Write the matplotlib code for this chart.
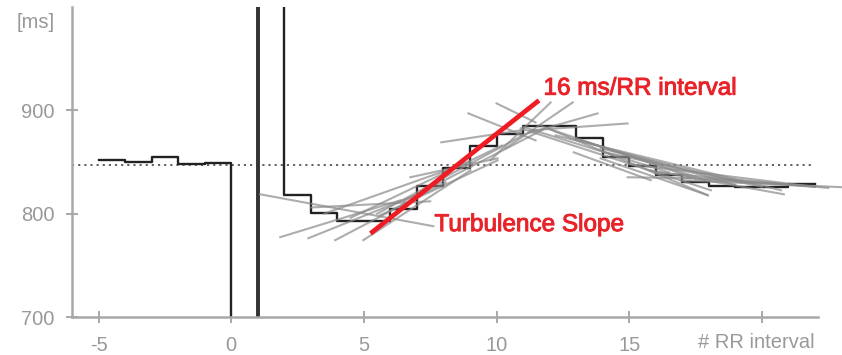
import matplotlib
matplotlib.use("Agg")
import matplotlib.pyplot as plt
import matplotlib.patheffects as pe

plt.rcParams['font.family'] = ['Liberation Sans', 'DejaVu Sans']

# ---- data ----
# RR tachogram: left edge of each step (beat index) and its RR length [ms]
rr_beat = list(range(-5, 22))
rr_ms = [852, 850, 855, 848, 849,      # before the VPC
         650, 1100,                     # coupling interval / compensatory pause (off scale)
         818, 801, 793, 793, 805, 827, 844, 866, 877, 885,
         885, 873, 855, 846, 837, 831, 827, 826, 826, 829]
rr_end = 22

baseline_ms = 847.5

# regression lines (grey), each: (x0, y0, x1, y1) in beat / ms
reg_x0 = [1.09, 1.85, 2.91, 3.92, 4.98, 5.62, 6.75, 7.92, 8.94, 10.00, 9.77, 10.34, 10.91, 11.28,
          10.91, 11.66, 12.23, 12.91, 14.94, 13.92, 15.81, 16.94, 17.70, 13.17, 13.92,
          3.5, 4.5, 5.5, 6.5, 3.0,
          11.0, 12.0, 13.0, 14.0, 15.0, 16.0, 17.0]
reg_y0 = [818.8, 777.3, 776.3, 774.4, 774.4, 798.6, 835.3, 869.1, 897.1, 906.8, 851.7, 863.3, 875.8, 880.7,
          882.6, 885.5, 875.8, 859.4, 835.3, 853.6, 842.0, 832.4, 834.3, 871.0, 863.3,
          800.0, 796.0, 800.0, 812.0, 806.0,
          884.0, 882.0, 872.0, 860.0, 848.0, 840.0, 835.0]
reg_x1 = [7.62, 6.38, 7.13, 8.08, 9.02, 10.04, 10.04, 10.91, 11.47, 11.47, 12.04, 12.87, 13.81, 14.94,
          18.08, 17.96, 20.72, 15.81, 17.32, 17.96, 20.83, 23.09, 21.47, 17.70, 19.21,
          9.0, 10.2, 11.0, 11.8, 7.5,
          16.5, 17.5, 19.0, 20.0, 22.0, 22.5, 22.0]
reg_y1 = [787.9, 813.0, 819.8, 830.4, 842.0, 851.7, 853.6, 880.7, 871.0, 888.4, 907.7, 907.7, 897.1, 887.4,
          822.7, 817.9, 822.7, 832.4, 834.3, 817.9, 818.8, 825.6, 827.5, 834.3, 830.4,
          850.0, 866.0, 876.0, 882.0, 812.0,
          840.0, 834.0, 828.0, 826.0, 826.0, 825.0, 826.0]

# turbulence slope (red)
ts_x = [5.25, 11.6]
ts_y = [780.9, 909.7]

x_ticks = [-5, 0, 5, 10, 15, 20]
x_tick_labels = ['-5', '0', '5', '10', '15', '']
y_ticks = [700, 800, 900]
y_tick_labels = ['700', '800', '900']

# ---- figure ----
fig = plt.figure(figsize=(8.42, 3.55), dpi=100)
ax = fig.add_axes([0.0855, 0.107, 0.8855, 0.873])
ax.set_xlim(-6, 22.1)
ax.set_ylim(700, 1000)

axis_grey = '#a8a8a8'
for s in ['top', 'right']:
    ax.spines[s].set_visible(False)
for s in ['left', 'bottom']:
    ax.spines[s].set_color(axis_grey)
    ax.spines[s].set_linewidth(1.8)

ax.set_xticks(x_ticks)
ax.set_xticklabels(x_tick_labels)
ax.set_yticks(y_ticks)
ax.set_yticklabels(y_tick_labels)
ax.tick_params(axis='both', direction='inout', length=9, width=1.4, color=axis_grey,
               labelcolor='#999999', labelsize=14.5)
ax.tick_params(axis='x', pad=9)
ax.tick_params(axis='y', pad=8)

# baseline (dotted)
ax.plot([-6, 21.9], [baseline_ms, baseline_ms], color='#555555', lw=1.3,
        linestyle=(0, (1.2, 2.2)), zorder=1)

# tachogram steps
ax.step(rr_beat + [rr_end], rr_ms + [rr_ms[-1]], where='post', color='#222222', lw=1.7, zorder=2)
# compensatory pause edge drawn heavier, as in the original
ax.plot([rr_beat[6], rr_beat[6]], [rr_ms[5], rr_ms[6]], color='#333333', lw=2.8, zorder=2)

# regression lines
for x0, y0, x1, y1 in zip(reg_x0, reg_y0, reg_x1, reg_y1):
    ax.plot([x0, x1], [y0, y1], color='#8a8a8a', lw=1.5, alpha=0.7, zorder=3, clip_on=False)

# turbulence slope
ax.plot(ts_x, ts_y, color='#ee1c24', lw=3.4, solid_capstyle='butt', zorder=4)

red = '#e8232a'
stroke = [pe.withStroke(linewidth=0.7, foreground=red)]
ax.text(11.77, 921, '16 ms/RR interval', color=red, fontsize=17.5, ha='left', va='center',
        zorder=5, path_effects=stroke)
ax.text(7.66, 789, 'Turbulence Slope', color=red, fontsize=17.5, ha='left', va='center',
        zorder=5, path_effects=stroke)

fig.text(0.0653, 0.938, '[ms]', color='#999999', fontsize=14.5, ha='right', va='center')
fig.text(0.968, 0.034, '# RR interval', color='#999999', fontsize=14.5, ha='right', va='center')

fig.savefig('out.png', dpi=100)
